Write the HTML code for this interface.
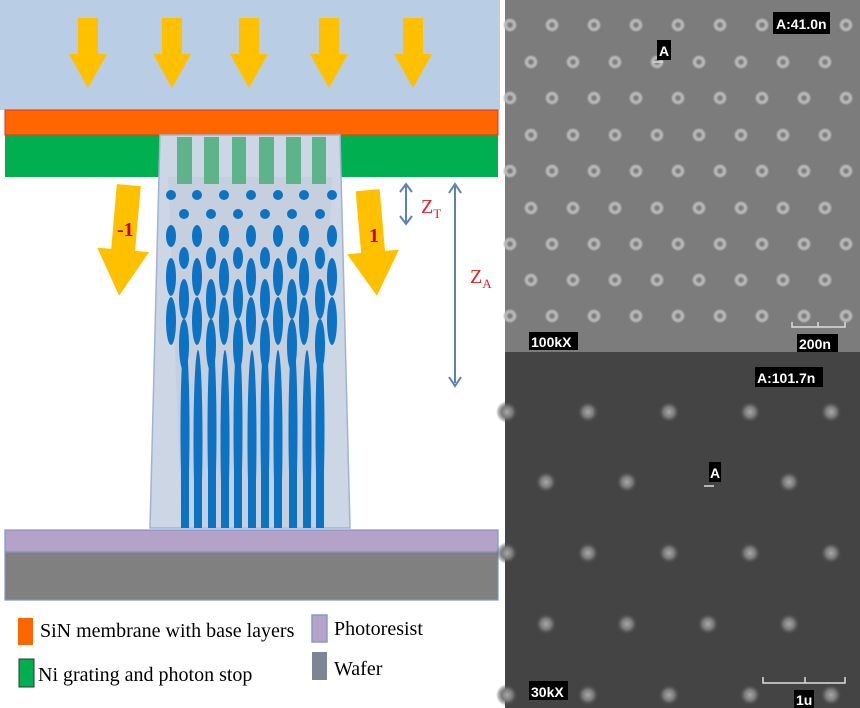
<!DOCTYPE html>
<html><head><meta charset="utf-8"><style>
html,body{margin:0;padding:0;background:#fff;width:860px;height:708px;overflow:hidden}
svg text{font-family:"Liberation Serif",serif}
.lbl{font-family:"Liberation Sans",sans-serif;font-weight:bold;fill:#fff;font-size:14px}
</style></head><body>
<svg width="860" height="708" viewBox="0 0 860 708" xmlns="http://www.w3.org/2000/svg">
<defs>
<radialGradient id="sp"><stop offset="0" stop-color="#a8a8a8"/><stop offset="0.5" stop-color="#7a7a7a"/><stop offset="1" stop-color="#444" stop-opacity="0"/></radialGradient>
<filter id="bl"><feGaussianBlur stdDeviation="0.8"/></filter>
<clipPath id="tc"><polygon points="160,135 340,135 350,528 150,528"/></clipPath>
<g id="arr"><polygon points="-10,0 10,0 10,36 19,36 0,70 -19,36 -10,36" fill="#ffc000"/></g>
</defs>
<rect x="0" y="0" width="500" height="110" fill="#b9cde5"/>
<use href="#arr" x="88" y="18"/><use href="#arr" x="172" y="18"/><use href="#arr" x="249" y="18"/><use href="#arr" x="329" y="18"/><use href="#arr" x="413" y="18"/>
<rect x="5" y="110" width="493" height="25" fill="#ff6600" stroke="#e03020" stroke-width="1"/>
<rect x="5" y="135" width="493" height="42" fill="#00b050"/>
<polygon points="160,135 340,135 350,528 150,528" fill="#ccd6e4" stroke="#9fb4d4" stroke-width="1.5"/>
<polygon points="168,177 332,177 318,528 182,528" fill="#c2cad8" opacity="0.6"/>
<g fill="#5db38a">
<rect x="177" y="137" width="15" height="47"/><rect x="204" y="137" width="15" height="47"/><rect x="232" y="137" width="14" height="47"/><rect x="259" y="137" width="15" height="47"/><rect x="286" y="137" width="15" height="47"/><rect x="312" y="137" width="14" height="47"/>
</g>
<g id="dots" fill="#0b72c4" clip-path="url(#tc)"></g>
<g transform="rotate(5 125 240)"><polygon points="112,185 136,185 136,250 150,250 124,296 98,250 112,250" fill="#ffc000"/></g>
<text x="117" y="236" fill="#c00000" font-size="20" font-weight="bold">-1</text>
<g transform="rotate(-5 372 240)"><polygon points="360,190 384,190 384,252 398,252 372,296 346,252 360,252" fill="#ffc000"/></g>
<text x="369" y="242" fill="#c00000" font-size="20" font-weight="bold">1</text>
<g stroke="#5b82b8" stroke-width="2" fill="none">
<line x1="406" y1="186" x2="406" y2="222"/><polyline points="400,192 406,184 412,192"/><polyline points="400,216 406,224 412,216"/>
<line x1="455" y1="186" x2="455" y2="383"/><polyline points="449,193 455,184 461,193"/><polyline points="449,377 455,386 461,377"/>
</g>
<text x="421" y="213" fill="#e0202a" font-size="20">Z<tspan font-size="13" dy="5">T</tspan></text>
<text x="470" y="283" fill="#e0202a" font-size="20">Z<tspan font-size="13" dy="5">A</tspan></text>
<rect x="5" y="530" width="493" height="22" fill="#b4a2c8" stroke="#7f95c8" stroke-width="1.2"/>
<rect x="5" y="552" width="493" height="48" fill="#808080" stroke="#7f95c8" stroke-width="1.2"/>
<rect x="18" y="618" width="15" height="27" fill="#ff6600"/>
<text x="40" y="637" font-size="20">SiN membrane with base layers</text>
<rect x="19" y="659" width="15" height="28" fill="#00b050" stroke="#333" stroke-width="1"/>
<text x="38" y="681" font-size="20">Ni grating and photon stop</text>
<rect x="312" y="615" width="15" height="27" fill="#b4a2c8" stroke="#8a9ac8" stroke-width="1.5"/>
<text x="334" y="635" font-size="20">Photoresist</text>
<rect x="312" y="652" width="15" height="28" fill="#7d8594"/>
<text x="334" y="675" font-size="20">Wafer</text>
<rect x="505" y="0" width="355" height="352" fill="#7c7c7c"/>
<g id="rings" fill="none" stroke="#b8b8b8" stroke-width="3.5" filter="url(#bl)"></g>
<rect x="773" y="12" width="57" height="22" fill="#000"/><text class="lbl" x="776" y="29">A:41.0n</text>
<rect x="657" y="40" width="14" height="20" fill="#000"/><text class="lbl" x="659" y="56">A</text>
<line x1="653" y1="62" x2="663" y2="62" stroke="#ddd" stroke-width="1.5"/>
<rect x="529" y="332" width="49" height="18" fill="#000"/><text class="lbl" x="531" y="347" font-size="13">100kX</text>
<polyline points="792,322 792,327 845,327 845,322" fill="none" stroke="#ddd" stroke-width="1.5"/><line x1="818" y1="322" x2="818" y2="327" stroke="#ddd" stroke-width="1.5"/>
<rect x="797" y="334" width="41" height="18" fill="#000"/><text class="lbl" x="799" y="349" font-size="13">200n</text>
<rect x="505" y="352" width="355" height="356" fill="#444"/>
<g id="spots"></g>
<rect x="755" y="367" width="68" height="20" fill="#000"/><text class="lbl" x="757" y="383">A:101.7n</text>
<rect x="709" y="462" width="12" height="20" fill="#000"/><text class="lbl" x="710" y="478">A</text>
<line x1="704" y1="486" x2="714" y2="486" stroke="#ddd" stroke-width="1.5"/>
<rect x="529" y="681" width="39" height="19" fill="#000"/><text class="lbl" x="531" y="697">30kX</text>
<polyline points="763,677 763,683 845,683 845,677" fill="none" stroke="#ddd" stroke-width="1.5"/><line x1="805" y1="677" x2="805" y2="683" stroke="#ddd" stroke-width="1.5"/>
<rect x="794" y="690" width="20" height="18" fill="#000"/><text class="lbl" x="796" y="705">1u</text>
</svg>
<script>
var NS="http://www.w3.org/2000/svg";
function el(p,t,a){var e=document.createElementNS(NS,t);for(var k in a)e.setAttribute(k,a[k]);p.appendChild(e);}
var d=document.getElementById("dots");
var A=[171,197,224,251,278,304,332],B=[184,211,238,265,292,320];
var rows=[[A,195,5],[B,214,5],[A,236,11],[B,258,11],[A,277,19],[B,299,20],[A,321,24],[B,345,26]];
rows.forEach(function(r){r[0].forEach(function(x){el(d,"ellipse",{cx:x,cy:r[1],rx:5,ry:r[2]});});});
var S=[185,198,212,225,238,252,265,278,293,307,320];
S.forEach(function(x,i){el(d,"ellipse",{cx:x,cy:430+(i%2)*10,rx:4.5,ry:90});el(d,"rect",{x:x-4,y:440,width:8,height:90});});
var g=document.getElementById("rings");
var ys=[25,62,98,135,171,208,244,280,316];
ys.forEach(function(y,j){var x0=j%2?531:510;for(var x=x0;x<865;x+=42){el(g,"circle",{cx:x,cy:y,r:4.5});}});
var s=document.getElementById("spots");
[[412,507,81],[482,546,81],[553,507,81],[624,546,81],[695,507,81]].forEach(function(r){for(var x=r[1];x<870;x+=r[2]){if(Math.abs(x-708)<5&&r[0]==482)continue;el(s,"circle",{cx:x,cy:r[0],r:11,fill:"url(#sp)"});}});
</script>
</body></html>
